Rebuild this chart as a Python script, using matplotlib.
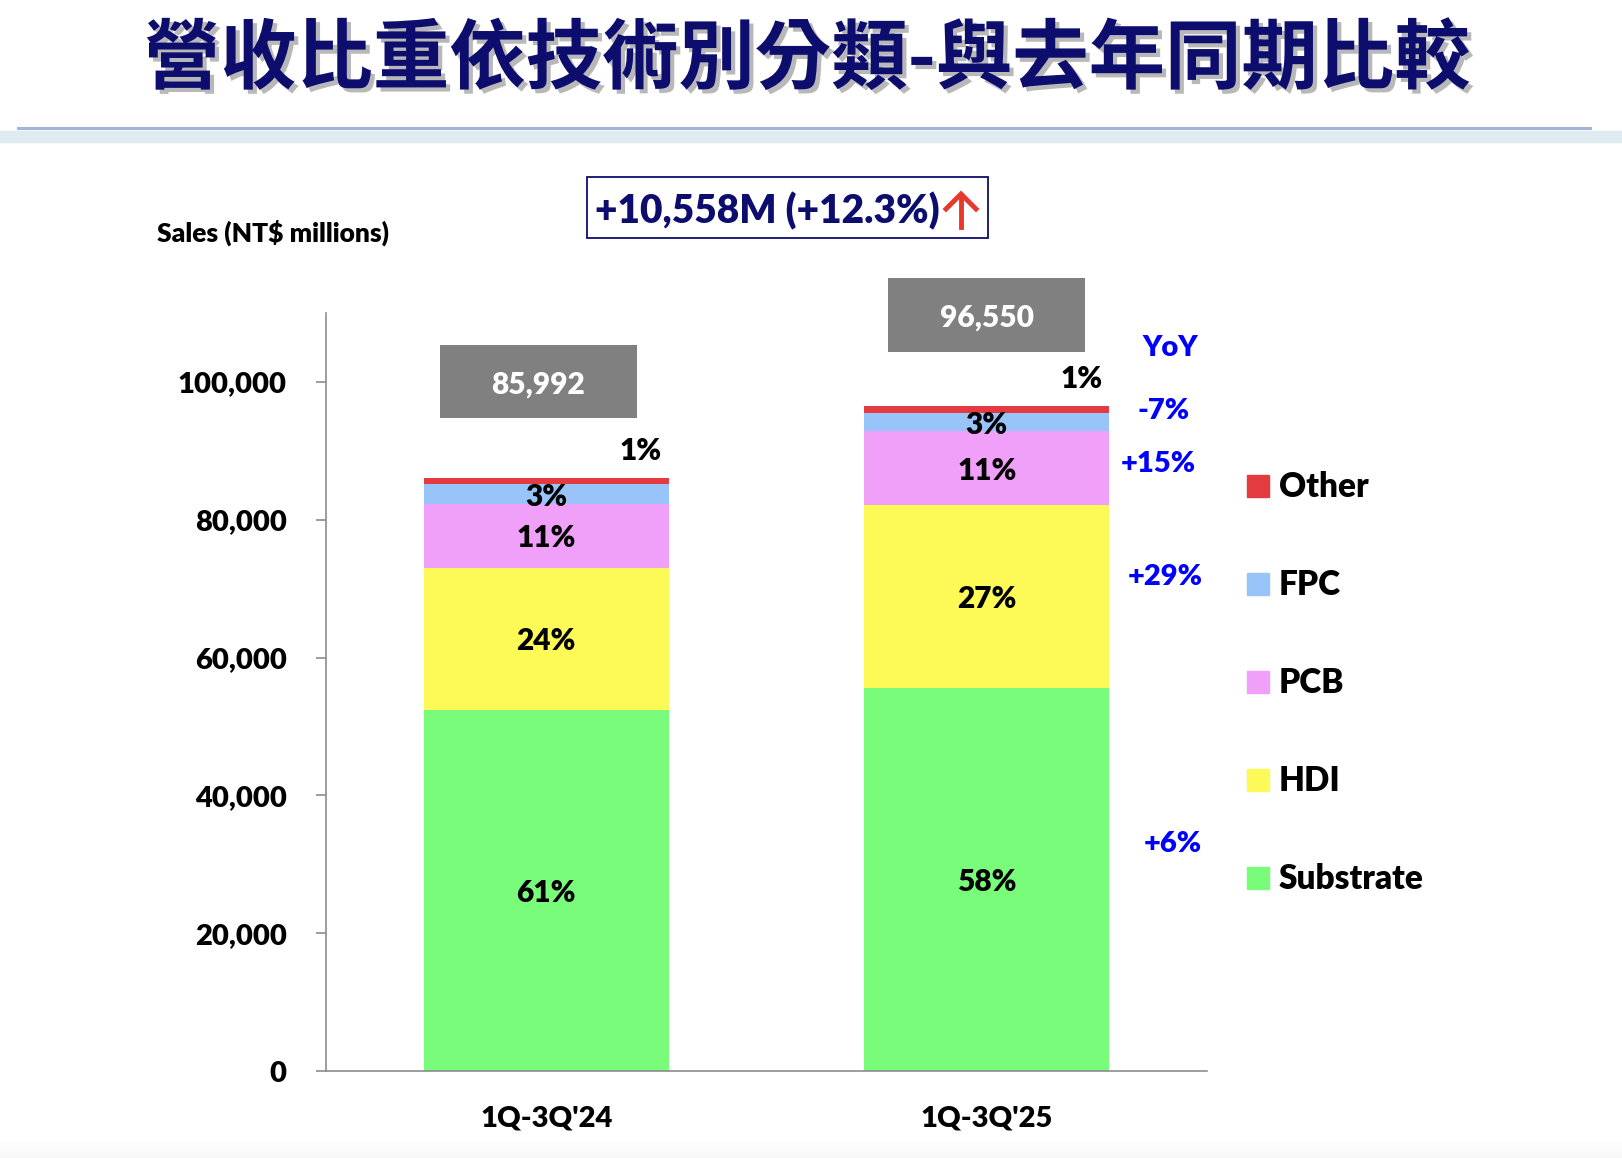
import numpy as np
import matplotlib
matplotlib.use('Agg')
import matplotlib.pyplot as plt
import matplotlib.patheffects as pe
from matplotlib.patches import Rectangle
from matplotlib.lines import Line2D

plt.rcParams['font.family'] = ['Lato', 'DejaVu Sans']
BOLD = 'heavy'

# data (NT$ millions)
periods = ["1Q-3Q'24", "1Q-3Q'25"]
categories = ['Substrate', 'HDI', 'PCB', 'FPC', 'Other']
substrate = [52450, 55650]
hdi = [20550, 26450]
pcb = [9300, 10750]
fpc = [2830, 2650]
other = [862, 1050]
totals = [85992, 96550]
share_24 = ['61%', '24%', '11%', '3%', '1%']
share_25 = ['58%', '27%', '11%', '3%', '1%']
yoy = ['+6%', '+29%', '+15%', '-7%']
increase_label = '+10,558M (+12.3%)'
yticks = [0, 20000, 40000, 60000, 80000, 100000]
ytick_labels = ['0', '20,000', '40,000', '60,000', '80,000', '100,000']

colors = ['#79fc79', '#fdfa58', '#f0a0f8', '#98c4f9', '#e33b3f']
navy = '#0d0d6e'
W, H = 1622, 1158

def fx(px):
    return px / W

def fy(py):
    return 1 - py / H

fig = plt.figure(figsize=(16.22, 11.58), dpi=100)
ax = fig.add_axes([fx(326), fy(1071), fx(1207) - fx(326), fy(313) - fy(1071)])

# stacked bars
series = [substrate, hdi, pcb, fpc, other]
x = np.arange(len(periods))
bottom = np.zeros(len(periods))
for vals, c in zip(series, colors):
    ax.bar(x, vals, width=0.557, bottom=bottom, color=c, edgecolor='none', zorder=2)
    bottom += np.array(vals)

# labels inside segments ('Other' is labelled above the bar)
shares = [share_24, share_25]
box_dx = [-0.018, 0.0]
box_gap = [8700, 7800]
for i in range(len(periods)):
    b = 0
    for j, vals in enumerate(series):
        if j < 4:
            ax.text(x[i], b + vals[i] / 2, shares[i][j], ha='center', va='center_baseline',
                    fontsize=21.5, fontweight=BOLD, color='black', zorder=3)
        b += vals[i]
    ax.text(x[i] + 0.215, totals[i] + 4300, shares[i][4], ha='center', va='center_baseline',
            fontsize=21.5, fontweight=BOLD, color='black')
    # total box
    bx = x[i] + box_dx[i]
    ax.add_patch(Rectangle((bx - 0.2235, totals[i] + box_gap[i]), 0.447, 10700,
                           facecolor='#808080', edgecolor='none', clip_on=False))
    ax.text(bx, totals[i] + box_gap[i] + 5350, f'{totals[i]:,}', ha='center',
            va='center_baseline', fontsize=21.5, fontweight=BOLD, color='white', clip_on=False)

# YoY column
yoy_y = [33300, 72000, 88400, 96200]
yoy_x = [1.423, 1.405, 1.389, 1.402]
ax.text(1.416, 105300, 'YoY', ha='center', va='center_baseline', fontsize=21,
        fontweight=BOLD, color='#0000ff')
for t, xx, yy in zip(yoy, yoy_x, yoy_y):
    ax.text(xx, yy, t, ha='center', va='center_baseline', fontsize=21,
            fontweight=BOLD, color='#0000ff')

ax.set_xlim(-0.5, 1.5)
ax.set_ylim(0, 110000)
ax.set_xticks(x)
ax.set_xticklabels(periods, fontsize=21, fontweight=BOLD)
ax.set_yticks(yticks)
ax.set_yticklabels(ytick_labels, fontsize=21, fontweight=BOLD)
ax.tick_params(axis='x', length=0, pad=25)
ax.tick_params(axis='y', length=7.2, width=1.2, color='#8c8c8c', pad=21)
for s in ['top', 'right']:
    ax.spines[s].set_visible(False)
for s in ['left', 'bottom']:
    ax.spines[s].set_color('#8c8c8c')
    ax.spines[s].set_linewidth(1.2)

# legend (manual, top to bottom)
leg_tops = [475, 573, 671, 769, 867]
for k, (name, c) in enumerate(zip(categories[::-1], colors[::-1])):
    t = leg_tops[k]
    fig.patches.append(Rectangle((fx(1247), fy(t + 22)), fx(22), 22 / H, color=c,
                                 transform=fig.transFigure))
    fig.text(fx(1279), fy(t + 22), name, ha='left', va='baseline', fontsize=24,
             fontweight=BOLD, color='black')

# title and header rule
fig.text(fx(807), fy(60), '營收比重依技術別分類-與去年同期比較', ha='center', va='center',
         fontsize=55, fontweight='bold', color=navy,
         family=['Noto Sans CJK TC', 'DejaVu Sans'],
         path_effects=[pe.SimplePatchShadow(offset=(3, -3), shadow_rgbFace='#8a8a8a', alpha=0.6),
                       pe.Normal()])
fig.add_artist(Line2D([fx(18), fx(1590)], [fy(128), fy(128)], color='#a3b5d6', lw=2.2))
fig.patches.append(Rectangle((0, fy(142)), 1, 11 / H, color='#deecf2',
                             transform=fig.transFigure))

# increase box
fig.patches.append(Rectangle((fx(587), fy(238)), fx(988) - fx(587), 61 / H, facecolor='white',
                             edgecolor=navy, lw=1.3, transform=fig.transFigure))
fig.text(fx(595), fy(223), increase_label, ha='left', va='baseline', fontsize=28,
         fontweight=BOLD, color=navy)
red = '#e8372b'
fig.add_artist(Line2D([fx(961), fx(961)], [fy(227), fy(195)], color=red, lw=3.5))
fig.add_artist(Line2D([fx(946), fx(961), fx(976)], [fy(209), fy(194), fy(209)], color=red,
                      lw=3.5, solid_joinstyle='miter'))

fig.text(fx(157), fy(242), 'Sales (NT$ millions)', ha='left', va='baseline', fontsize=19,
         fontweight=BOLD, color='black')

# faint bottom shade
gax = fig.add_axes([0, 0, 1, 20 / H])
gax.imshow(np.linspace(1, 0.965, 20).reshape(-1, 1), cmap='gray', vmin=0, vmax=1,
           aspect='auto', extent=[0, 1, 0, 1])
gax.axis('off')

fig.savefig('out.png', dpi=100)
